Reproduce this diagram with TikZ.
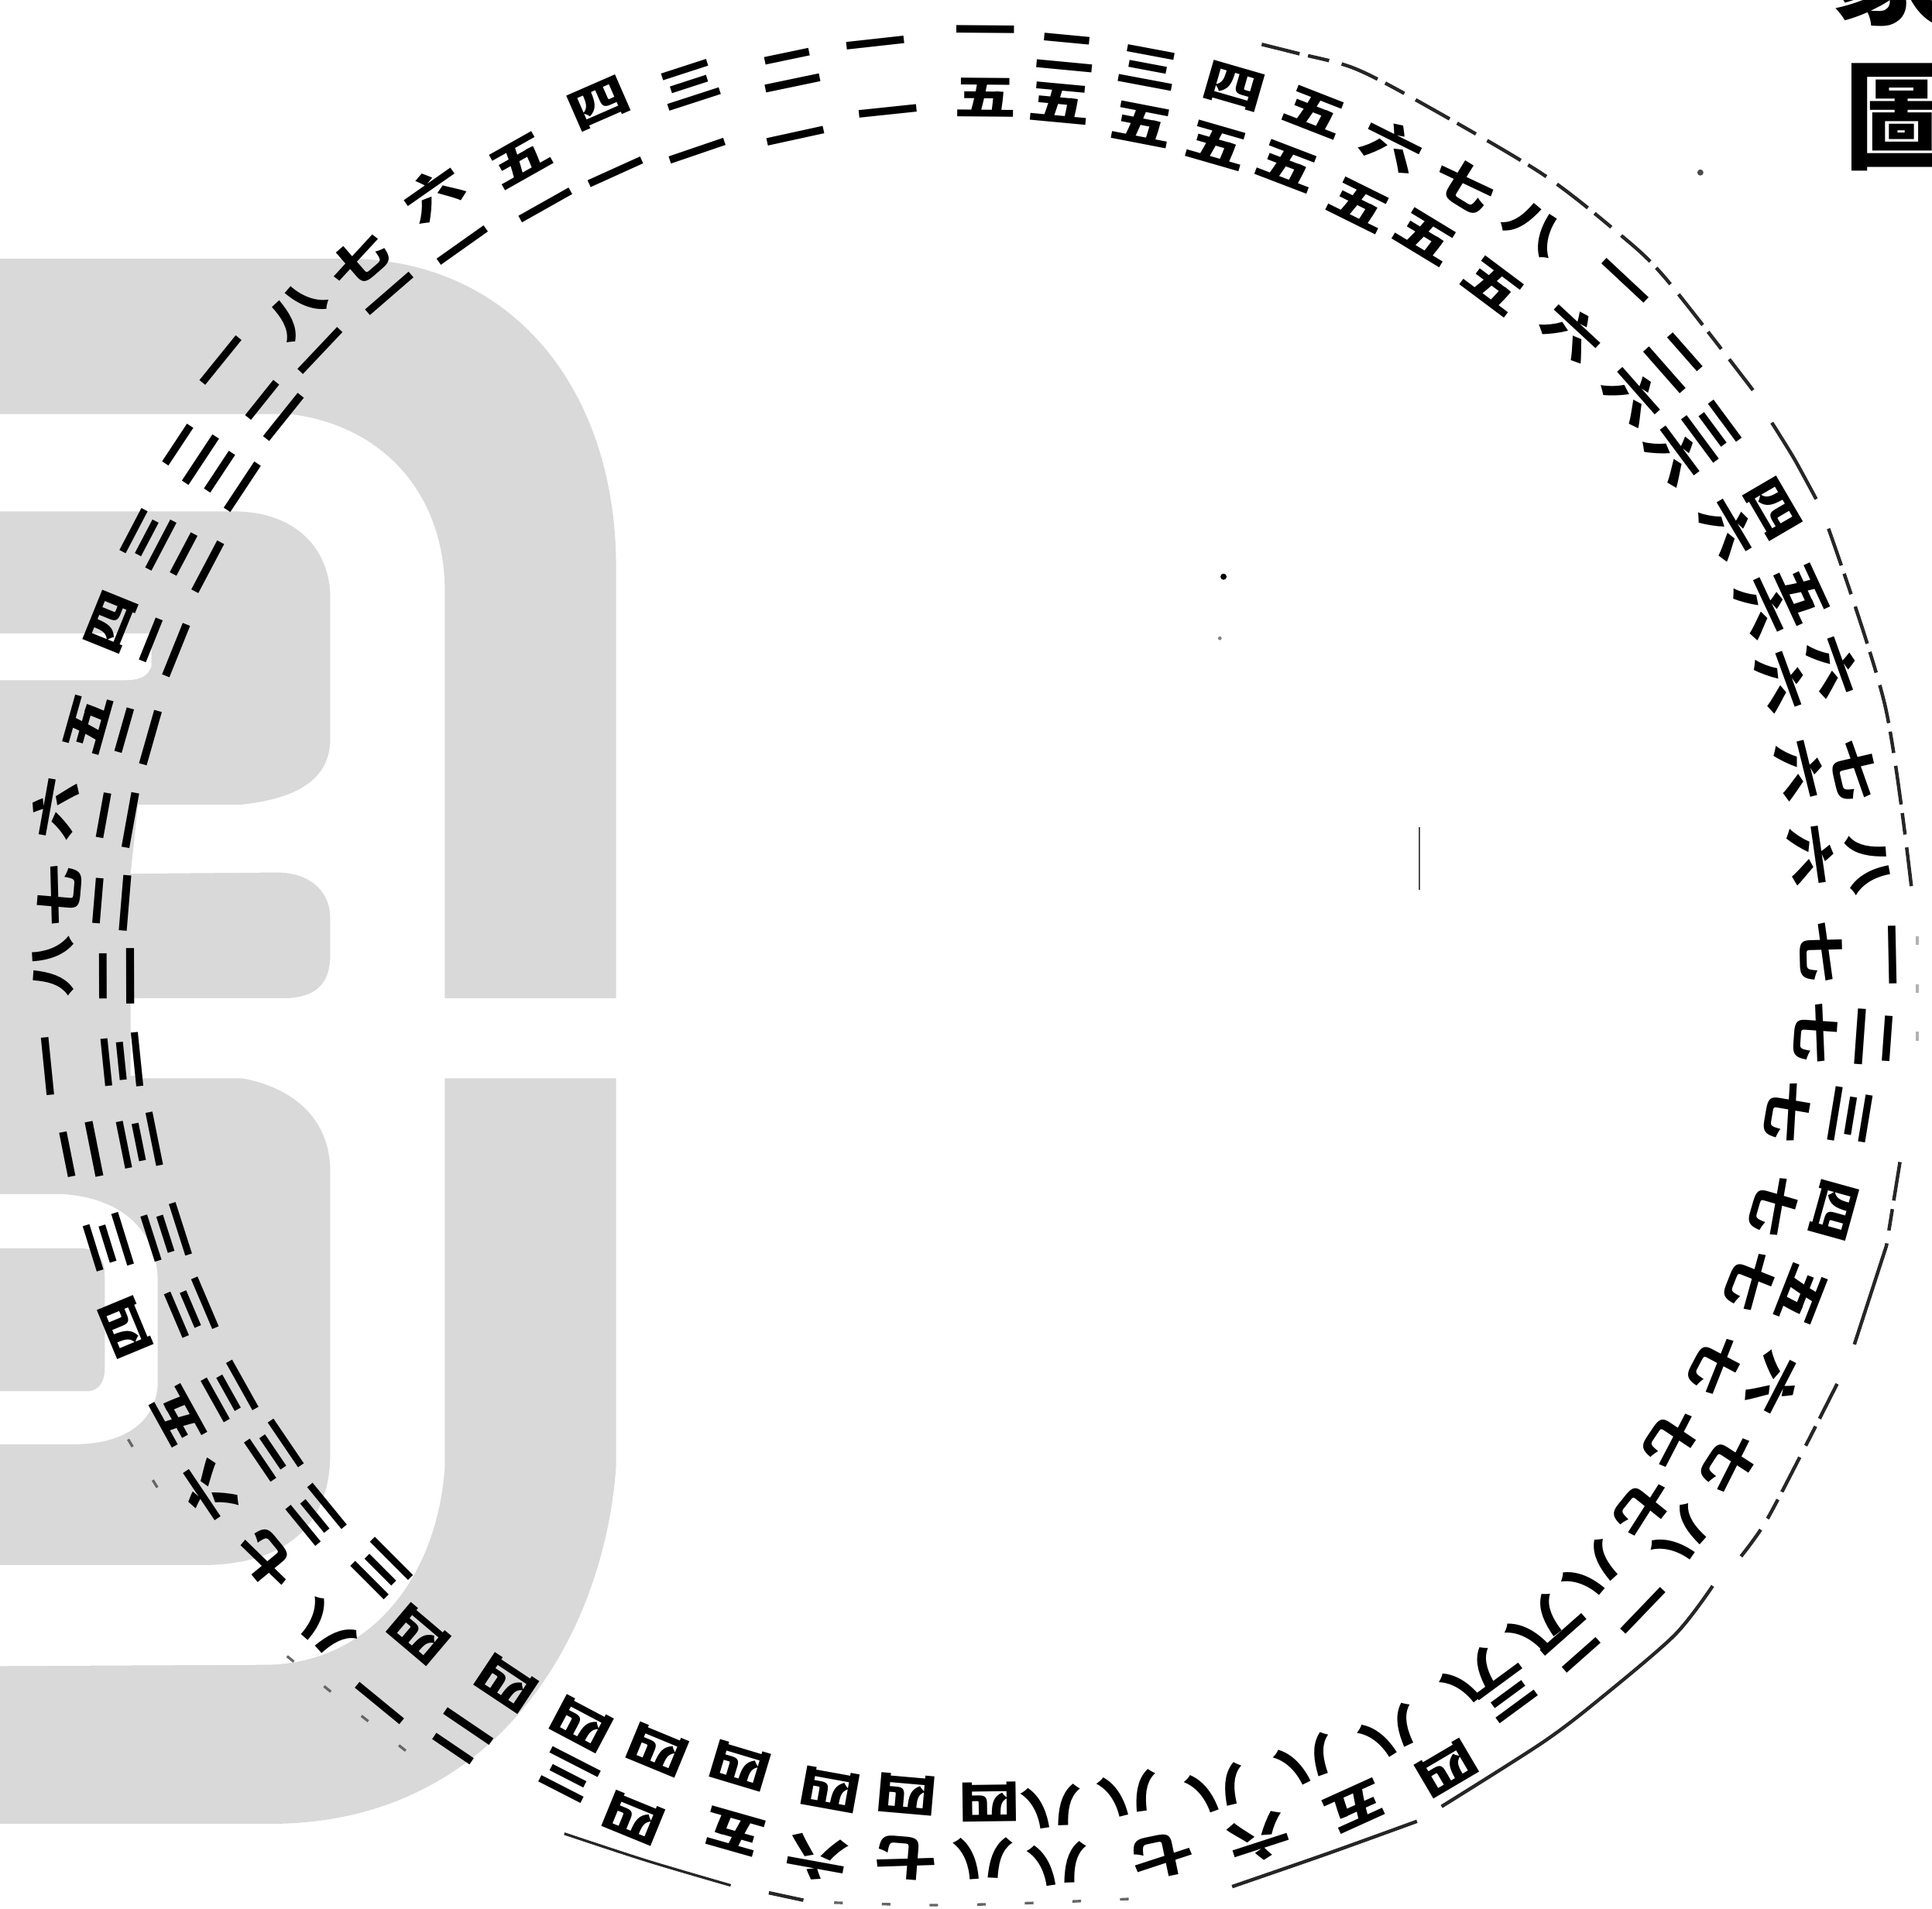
\documentclass[tikz,border=0pt]{standalone}
\usepackage{fontspec}
\newfontfamily\cjk{Noto Sans CJK SC}
\definecolor{logogray}{HTML}{D9D9D9}
\tikzset{
  numeral/.style={font=\cjk\bfseries\fontsize{14}{14}\selectfont,inner sep=0pt,xscale=1.02,yscale=0.78},
  titlechar/.style={font=\cjk\bfseries\fontsize{27}{27}\selectfont,inner sep=0pt},
  rim/.style={line width=0.8pt,black!85},
  rimdash/.style={rim,dash pattern=on 9pt off 2pt on 5pt off 3pt},
  rimdot/.style={line width=0.6pt,black!60,dash pattern=on 2pt off 9pt},
}
\begin{document}
\begin{tikzpicture}[x=0.01cm,y=-0.01cm]
\useasboundingbox (0,0) rectangle (1568,1549);
\clip (0,0) rectangle (1568,1549);
\fill[logogray] (0,210) -- (290,210) .. controls (420,215) and (500,320) .. (500,460) -- (500,810)
  -- (110,810) -- (110,875) -- (500,875) -- (500,1190) .. controls (490,1330) and (400,1480) .. (220,1480) -- (0,1480) -- cycle;
\fill[white] (0,336) -- (235,336) .. controls (310,345) and (361,400) .. (361,480) -- (361,1190)
  .. controls (355,1280) and (300,1351) .. (214,1351) -- (0,1352) -- (0,1270) -- (170,1270)
  .. controls (235,1268) and (268,1235) .. (268,1180) -- (268,950) .. controls (268,900) and (225,873) .. (172,873)
  -- (106,873) -- (106,810) -- (235,810) .. controls (260,808) and (268,795) .. (268,775) -- (268,745)
  .. controls (268,722) and (250,708) .. (225,708) -- (106,709) -- (112,653) -- (195,653)
  .. controls (245,648) and (268,630) .. (268,600) -- (268,480) .. controls (265,440) and (235,415) .. (190,415)
  -- (0,415) -- cycle;
\fill[white] (0,514) -- (123,514) -- (123,540) .. controls (120,550) and (112,552) .. (100,552) -- (0,552) -- cycle;
\fill[white] (0,969) -- (50,969) .. controls (100,972) and (128,1000) .. (128,1040) -- (128,1125)
  .. controls (125,1155) and (100,1172) .. (60,1172) -- (0,1172) -- cycle;
\fill[logogray] (0,1013) -- (65,1013) .. controls (80,1013) and (85,1022) .. (85,1035) -- (85,1110)
  .. controls (85,1122) and (80,1129) .. (70,1129) -- (0,1129) -- cycle;
\draw[rimdash] plot[smooth] coordinates {(1024,36) (1052,43) (1098,55) (1149,81) (1250,140) (1312,188) (1351,225) (1423,317)};
\draw[rim] plot[smooth] coordinates {(1438,343) (1456,372) (1474,405)};
\draw[rimdash] plot[smooth] coordinates {(1484,429) (1530,573) (1552,726)};
\draw[rimdot,black!30] (1556,760) -- (1556,860);
\draw[rimdash] plot[smooth] coordinates {(1542,943) (1531,1011)};
\draw[rim] plot[smooth] coordinates {(1531,1011) (1505,1091)};
\draw[rimdash] plot[smooth] coordinates {(1491,1123) (1462,1180) (1433,1235) (1413,1263)};
\draw[rim] plot[smooth] coordinates {(1390,1287) (1359,1327) (1298,1379) (1252,1414) (1170,1466)};
\draw[rim] plot[smooth] coordinates {(1150,1478) (1078,1504) (1000,1531)};
\draw[rim,line width=0.6pt] plot[smooth] coordinates {(458,1488) (525,1510) (593,1530)};
\draw[rim] (624,1536) -- (652,1542);
\draw[rimdot] plot[smooth] coordinates {(677,1544) (760,1546) (845,1544) (938,1540)};
\draw[rimdot] plot[smooth] coordinates {(233,1344) (270,1374) (336,1426)};
\draw[rimdot] plot[smooth] coordinates {(104,1168) (119,1193) (137,1222)};
\draw[line width=0.5pt,black!70] (1152,671) -- (1152,722);
\fill (993,468) circle (2.5);
\fill[black!50] (990,518) circle (1.5);
\fill[black!70] (1380,140) circle (2.5);
\foreach \xa/\ya/\ca/\xb/\yb/\cb [count=\n] in {
  800/30/一/800/79/五,865/43/二/860/84/五,932/55/三/927/101/五,1002/70/四/988/118/五,
  1067/91/五/1045/135/五,1130/118/六/1103/166/五,1188/150/七/1157/192/五,1245/185/八/1212/232/五,
  1315/232/一/1276/269/六,1359/293/二/1326/321/六,1390/349/三/1359/369/六,1439/413/四/1403/429/六,
  1463/481/五/1430/493/六,1488/541/六/1446/553/六,1505/625/七/1461/625/六,1516/701/八/1470/694/六,
  1530/775/一/1478/772/七,1521/842/二/1474/838/七,1502/906/三/1451/902/七,1488/982/四/1440/978/七,
  1462/1051/五/1421/1039/七,1440/1123/六/1393/1107/七,1404/1187/七/1357/1167/七,1365/1247/八/1334/1223/七,
  1329/1303/一/1293/1275/八,1276/1335/二/1248/1319/八,1224/1375/三/1195/1362/八,1174/1435/四/1129/1406/八,
  1100/1466/五/1061/1429/八,1022/1492/六/988/1452/八,944/1506/七/916/1456/八,859/1513/八/854/1466/八,
  798/1508/八/803/1462/四,736/1508/七/736/1456/四,663/1508/六/674/1452/四,596/1487/五/601/1433/四,
  514/1475/四/534/1420/四,461/1441/三/472/1399/四,374/1410/二/411/1366/四,312/1378/一/340/1326/四,
  264/1322/八/309/1274/三,217/1266/七/256/1230/三,169/1210/六/222/1178/三,144/1150/五/186/1130/三,
  102/1077/四/155/1062/三,88/1009/三/135/1001/三,66/935/二/113/927/三,45/865/一/99/861/三,
  43/784/八/95/792/二,48/727/七/91/732/二,44/656/六/95/664/二,71/587/五/112/596/二,
  90/505/四/133/524/二,120/437/三/159/455/二,154/367/二/188/389/二,184/296/一/222/332/二,
  241/252/八/264/289/一,291/212/七/320/243/一,352/157/六/379/204/一,422/130/五/446/172/一,
  486/84/四/502/145/一,560/69/三/568/128/一,641/57/二/647/116/一,711/41/一/721/96/一}{
  \pgfmathsetmacro\rota{atan2(790-\ya,\xa-794)-90}
  \pgfmathsetmacro\rotb{atan2(790-\yb,\xb-794)-90}
  \node[rotate=\rota,numeral] (outer\n) at (\xa,\ya) {\ca};
  \node[rotate=\rotb,numeral] (inner\n) at (\xb,\yb) {\cb};
}
\node[titlechar] (tu) at (1544,95) {圖};
\node[titlechar] (xiang) at (1532,-24) {象};
\end{tikzpicture}
\end{document}
